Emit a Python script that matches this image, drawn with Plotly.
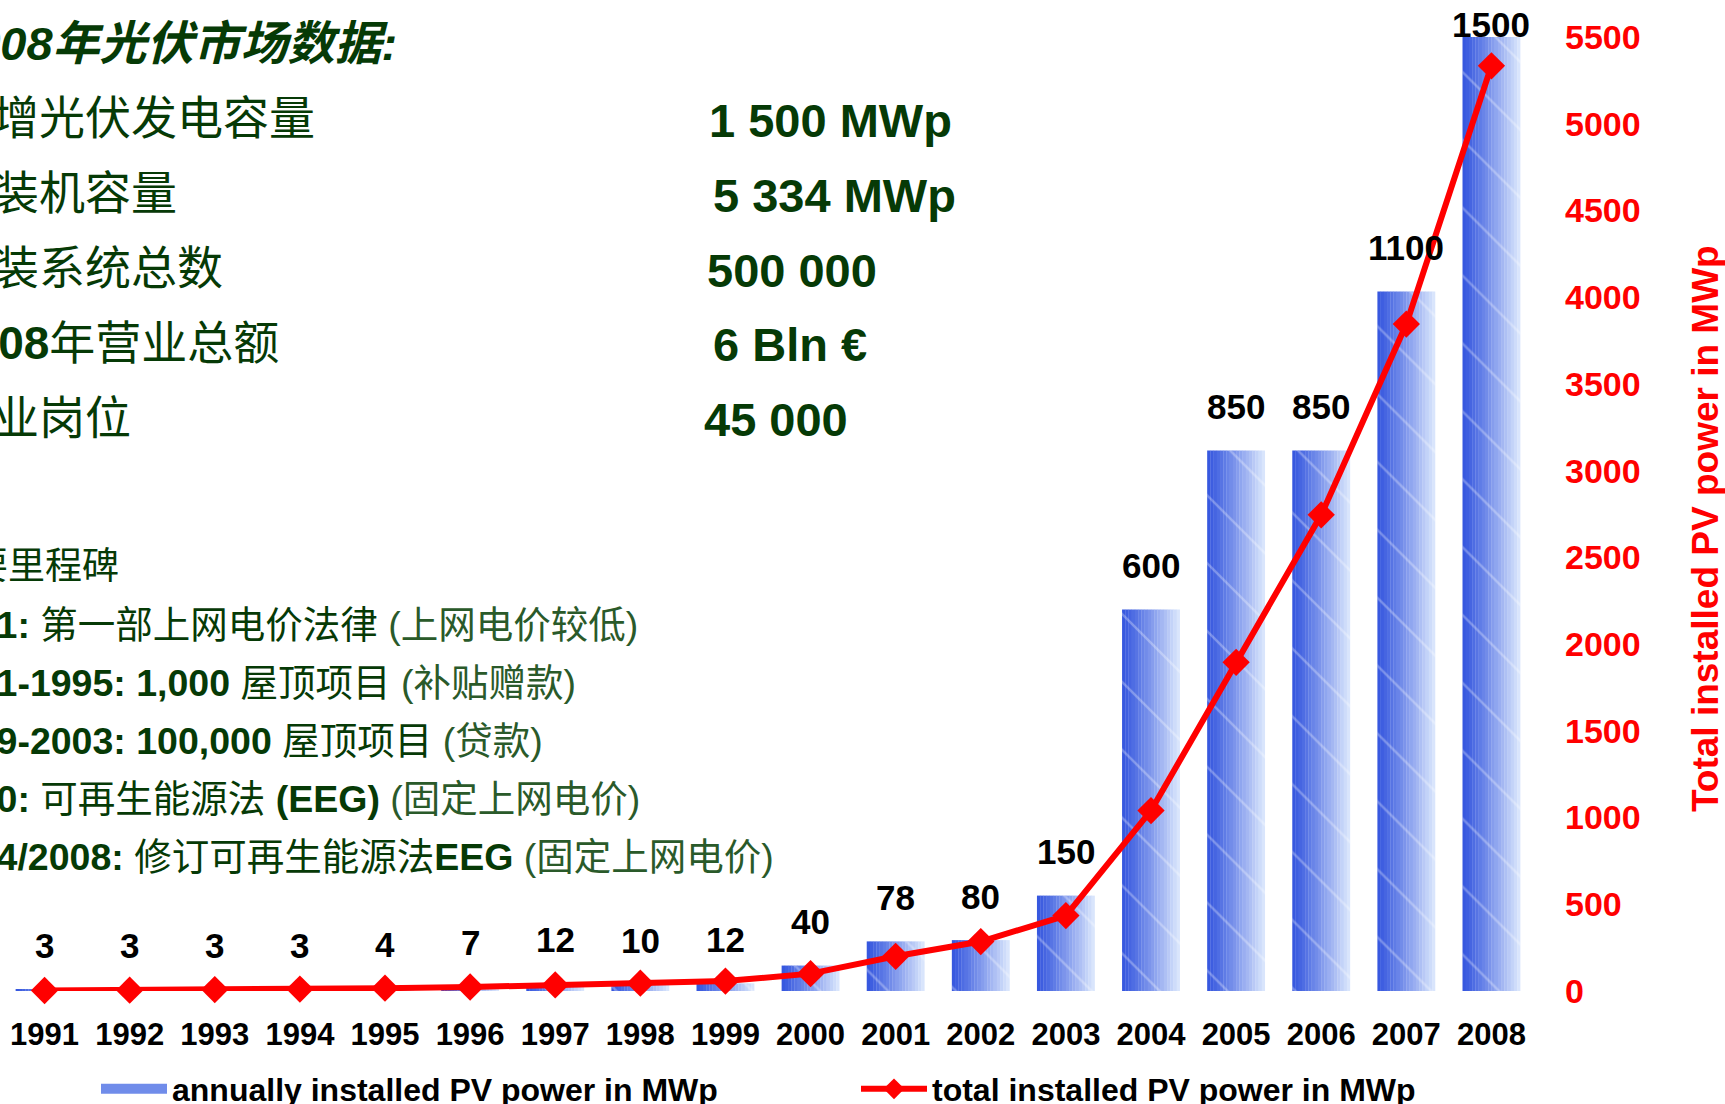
import plotly.graph_objects as go

# ---- data -------------------------------------------------------------
years = ["1991", "1992", "1993", "1994", "1995", "1996", "1997", "1998", "1999",
         "2000", "2001", "2002", "2003", "2004", "2005", "2006", "2007", "2008"]
annual_mwp = [3, 3, 3, 3, 4, 7, 12, 10, 12, 40, 78, 80, 150, 600, 850, 850, 1100, 1500]
total_mwp = [3, 5, 8, 11, 16, 23, 35, 45, 57, 100, 200, 285, 435, 1040, 1895, 2745, 3845, 5334]

facts_labels = ["2008年光伏市场数据:", "新增光伏发电容量", "总装机容量", "安装系统总数",
                "<b>2008</b>年营业总额", "就业岗位"]
facts_values = ["1 500 MWp", "5 334 MWp", "500 000", "6 Bln €", "45 000"]

milestone_title = "重要里程碑"
milestone_main = ["<b>1991:</b> 第一部上网电价法律",
                  "<b>1991-1995: 1,000</b> 屋顶项目",
                  "<b>1999-2003: 100,000</b> 屋顶项目",
                  "<b>2000:</b> 可再生能源法 <b>(EEG)</b>",
                  "<b>2004/2008:</b> 修订可再生能源法<b>EEG</b>"]
milestone_note = ["(上网电价较低)", "(补贴赠款)", "(贷款)", "(固定上网电价)", "(固定上网电价)"]

right_axis_title = "Total installed PV power in MWp"

# ---- layout geometry ----------------------------------------------------
W, H = 1725, 1104
ML, MR, MT, MB = 2, 191, 37, 113
LATIN = "Liberation Sans, Arial, Noto Sans CJK SC"
GREEN = "#063a06"
NOTE_GREEN = "#2a5a2a"
RED = "#ff0000"
BAR_LEGEND_BLUE = "rgb(112,140,234)"
LABEL_LIFT = 44      # px between a bar's top and the centre of its value label
TOP_LABEL_LIFT = 13  # the tallest bar reaches the top of the plot area


def px_x(px):
    return (px - ML) / (W - ML - MR)


def px_y(py):
    return (H - MB - py) / (H - MT - MB)


fig = go.Figure()

# Bars are built from vertical slices so the fill fades from deep blue to pale blue.
BAR_W = 0.68
N_SLICES = 18
c0 = (52, 86, 222)
c1 = (222, 234, 253)
for k in range(N_SLICES):
    t = ((k + 0.5) / N_SLICES) ** 1.15
    col = tuple(round(a + (b - a) * t) for a, b in zip(c0, c1))
    sw = BAR_W / N_SLICES
    fig.add_trace(go.Bar(
        x=years, y=annual_mwp,
        width=sw * (1.0 if k == N_SLICES - 1 else 1.08),
        offset=-BAR_W / 2 + k * sw,
        marker=dict(color="rgb(%d,%d,%d)" % col, line=dict(width=0)),
        name="annually installed PV power in MWp",
        legendgroup="annual",
        showlegend=False,
        hoverinfo="skip",
        yaxis="y",
    ))

# Light diagonal streaks over the bars.
fig.add_trace(go.Bar(
    x=years, y=annual_mwp,
    width=BAR_W, offset=-BAR_W / 2,
    marker=dict(color="rgba(255,255,255,0.3)", line=dict(width=0),
                pattern=dict(shape="\\", size=48, solidity=0.05, fillmode="replace")),
    name="annually installed PV power in MWp",
    legendgroup="annual",
    showlegend=False,
    yaxis="y",
))

# Legend swatch for the bar series (a wide, thick stroke).
fig.add_trace(go.Scatter(
    x=[None], y=[None], mode="lines",
    line=dict(color=BAR_LEGEND_BLUE, width=18),
    name="annually installed PV power in MWp",
    legendgroup="annual",
    showlegend=True,
    yaxis="y",
))

# Cumulative installed power on the right-hand axis.
fig.add_trace(go.Scatter(
    x=years, y=total_mwp,
    mode="lines+markers",
    line=dict(color=RED, width=6),
    marker=dict(symbol="diamond", size=21, color=RED),
    name="total installed PV power in MWp",
    cliponaxis=False,
    yaxis="y2",
))

annotations = []

# Value labels above the bars (category axes place annotations by category index)
peak = max(annual_mwp)
for i, v in enumerate(annual_mwp):
    annotations.append(dict(
        text="<b>%d</b>" % v, x=i, y=v, xref="x", yref="y",
        xanchor="center", yanchor="middle", showarrow=False,
        yshift=TOP_LABEL_LIFT if v == peak else LABEL_LIFT,
        font=dict(family=LATIN, size=35, color="black")))

# Market figures block
row_y = [44, 118, 193, 268, 343, 418]
for i, txt in enumerate(facts_labels):
    if i == 0:
        txt = "<b><i>" + txt + "</i></b>"
    annotations.append(dict(
        text=txt, x=px_x(-55), y=px_y(row_y[i]), xref="paper", yref="paper",
        xanchor="left", yanchor="middle", showarrow=False,
        font=dict(family=LATIN, size=47 if i == 0 else 46, color=GREEN)))

value_x = [707, 711, 705, 711, 702]
for i, txt in enumerate(facts_values):
    annotations.append(dict(
        text="<b>" + txt + "</b>", x=px_x(value_x[i]), y=px_y(row_y[i + 1] + 2),
        xref="paper", yref="paper", xanchor="left", yanchor="middle",
        showarrow=False, font=dict(family=LATIN, size=47, color=GREEN)))

# Milestones block
MS_X = -68
annotations.append(dict(
    text=milestone_title, x=px_x(MS_X), y=px_y(566), xref="paper", yref="paper",
    xanchor="left", yanchor="middle", showarrow=False,
    font=dict(family=LATIN, size=37, color=GREEN)))
ms_y = [625, 683, 741, 799, 857]
for i, (main, note) in enumerate(zip(milestone_main, milestone_note)):
    annotations.append(dict(
        text=main + " <span style='color:%s'>%s</span>" % (NOTE_GREEN, note),
        x=px_x(MS_X), y=px_y(ms_y[i]), xref="paper", yref="paper",
        xanchor="left", yanchor="middle", showarrow=False,
        font=dict(family=LATIN, size=37.5, color=GREEN)))

# Right-hand axis title
annotations.append(dict(
    text="<b>" + right_axis_title + "</b>", x=px_x(1705), y=px_y(529),
    xref="paper", yref="paper", xanchor="center", yanchor="middle",
    textangle=-90, showarrow=False,
    font=dict(family=LATIN, size=37, color=RED)))

fig.update_layout(
    width=W, height=H,
    margin=dict(l=ML, r=MR, t=MT, b=MB, pad=0, autoexpand=False),
    paper_bgcolor="white", plot_bgcolor="white",
    barmode="overlay",
    showlegend=True,
    legend=dict(
        orientation="h", x=px_x(96), y=px_y(1089), xanchor="left", yanchor="middle",
        font=dict(family=LATIN, size=32, color="black", weight="bold"),
        itemwidth=66, entrywidth=679, traceorder="normal",
        bgcolor="rgba(0,0,0,0)", borderwidth=0, tracegroupgap=0,
    ),
    xaxis=dict(
        type="category", range=[-0.5, len(years) - 0.5],
        showgrid=False, zeroline=False, showline=False,
        ticks="", ticklabelstandoff=22, automargin=False,
        tickfont=dict(family=LATIN, size=31, color="black", weight="bold"),
    ),
    yaxis=dict(range=[0, 1500], showticklabels=False, showgrid=False,
               zeroline=False, showline=False, ticks="", fixedrange=True,
               automargin=False),
    yaxis2=dict(
        overlaying="y", side="right", range=[0, 5500], dtick=500,
        showgrid=False, zeroline=False, showline=False, ticks="",
        ticklabelstandoff=30, automargin=False,
        tickfont=dict(family=LATIN, size=34, color=RED, weight="bold"),
    ),
    annotations=annotations,
)

fig.write_html("out.html")
